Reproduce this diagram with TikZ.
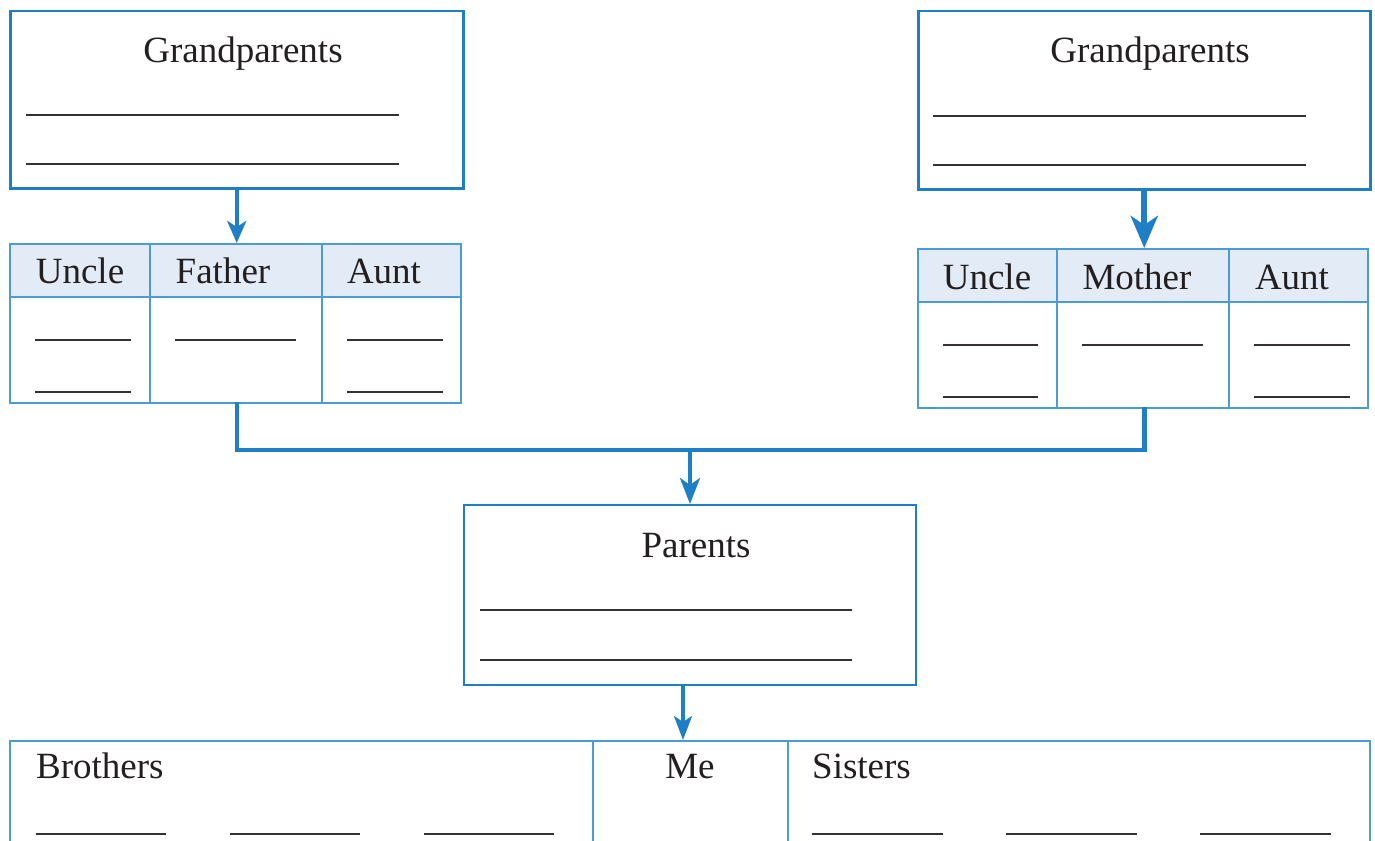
\documentclass[tikz,border=0pt]{standalone}
\usepackage{fontspec}
\setmainfont{Liberation Serif}
\usetikzlibrary{arrows.meta,calc}
\definecolor{bblue}{HTML}{1E7FC6}
\definecolor{tblue}{HTML}{4A9BD6}
\definecolor{hfill}{HTML}{E3EBF6}
\definecolor{ink}{HTML}{231F20}
\begin{document}
\begin{tikzpicture}[x=1pt,y=-1pt,
  font=\fontsize{37}{44}\selectfont,
  box/.style={draw=bblue, line width=2.5pt, fill=white, inner sep=0pt, anchor=north west},
  pbox/.style={box, line width=2pt},
  cell/.style={draw=tblue, line width=1.5pt, inner sep=0pt, anchor=north west},
  hcell/.style={cell, fill=hfill},
  frame/.style={inner sep=0pt, anchor=north west},
  blank/.style={draw=ink!92, line width=2pt},
  lbl/.style={text=ink, anchor=base, inner sep=0pt},
  lbll/.style={lbl, anchor=base west},
  conn/.style={draw=bblue, line width=4.5pt},
  arrA/.style={draw=bblue, line width=4pt, -{Stealth[length=22pt,width=19pt,inset=6pt]}},
  arrB/.style={draw=bblue, line width=6pt, -{Stealth[length=32pt,width=27pt,inset=9pt]}},
  arrC/.style={draw=bblue, line width=4pt, -{Stealth[length=26pt,width=20pt,inset=7pt]}},
  arrD/.style={draw=bblue, line width=3.5pt, -{Stealth[length=24pt,width=18pt,inset=6pt]}}
]
\useasboundingbox (0,0) rectangle (1375,840);
\clip (0,0) rectangle (1375,840);

% ---------- left grandparents ----------
\node[box, minimum width=453pt, minimum height=177pt] (gpL) at (9,10) {};
\node[lbl] (gpLt) at (243,63) {Grandparents};
\draw[blank] (26,115) -- (399,115);
\draw[blank] (26,164) -- (399,164);

% ---------- right grandparents ----------
\node[box, minimum width=452pt, minimum height=178pt] (gpR) at (917,10) {};
\node[lbl] (gpRt) at (1150,63) {Grandparents};
\draw[blank] (933,116) -- (1306,116);
\draw[blank] (933,165) -- (1306,165);

% ---------- left table ----------
\node[frame, minimum width=451pt, minimum height=159pt] (tL) at (9,243) {};
\node[hcell, minimum width=140pt, minimum height=53pt] (tLU) at (9,243) {};
\node[hcell, minimum width=172pt, minimum height=53pt] (tLF) at (149,243) {};
\node[hcell, minimum width=139pt, minimum height=53pt] (tLA) at (321,243) {};
\node[cell, minimum width=140pt, minimum height=106pt] (tLUb) at (9,296) {};
\node[cell, minimum width=172pt, minimum height=106pt] (tLFb) at (149,296) {};
\node[cell, minimum width=139pt, minimum height=106pt] (tLAb) at (321,296) {};
\node[lbl] at (80,283) {Uncle};
\node[lbl] at (223,283) {Father};
\node[lbl] at (384,283) {Aunt};
\draw[blank] (35,340) -- (131,340);
\draw[blank] (35,392) -- (131,392);
\draw[blank] (175,340) -- (296,340);
\draw[blank] (347,340) -- (443,340);
\draw[blank] (347,392) -- (443,392);

% ---------- right table ----------
\node[frame, minimum width=450pt, minimum height=159pt] (tR) at (917,248) {};
\node[hcell, minimum width=139pt, minimum height=53pt] (tRU) at (917,248) {};
\node[hcell, minimum width=172pt, minimum height=53pt] (tRM) at (1056,248) {};
\node[hcell, minimum width=139pt, minimum height=53pt] (tRA) at (1228,248) {};
\node[cell, minimum width=139pt, minimum height=106pt] (tRUb) at (917,301) {};
\node[cell, minimum width=172pt, minimum height=106pt] (tRMb) at (1056,301) {};
\node[cell, minimum width=139pt, minimum height=106pt] (tRAb) at (1228,301) {};
\node[lbl] at (987,289) {Uncle};
\node[lbl] at (1137,289) {Mother};
\node[lbl] at (1292,289) {Aunt};
\draw[blank] (943,345) -- (1038,345);
\draw[blank] (943,397) -- (1038,397);
\draw[blank] (1082,345) -- (1203,345);
\draw[blank] (1254,345) -- (1350,345);
\draw[blank] (1254,397) -- (1350,397);

% ---------- parents ----------
\node[pbox, minimum width=452pt, minimum height=180pt] (par) at (463,504) {};
\node[lbl] (part) at (696,557) {Parents};
\draw[blank] (480,610) -- (852,610);
\draw[blank] (480,660) -- (852,660);

% ---------- siblings row ----------
\node[cell, minimum width=583pt, minimum height=160pt] (bro) at (9,740) {};
\node[cell, minimum width=195pt, minimum height=160pt] (me) at (592,740) {};
\node[cell, minimum width=582pt, minimum height=160pt] (sis) at (787,740) {};
\node[lbll] at (36,778) {Brothers};
\node[lbl] at (690,778) {Me};
\node[lbll] at (812,778) {Sisters};
\foreach \a/\b in {36/166,230/360,424/554,812/943,1006/1137,1200/1331}
  \draw[blank] (\a,834) -- (\b,834);

% ---------- connectors ----------
\coordinate (bar) at (0,450);
\draw[arrA] (gpL.south) -- (gpL.south |- tL.north);
\draw[arrB] (gpR.south) -- (gpR.south |- tR.north);
\draw[conn] (gpL.south |- tL.south) |- (bar -| gpR.south) -- (gpR.south |- tR.south);
\draw[arrC] (par.north |- bar) -- (par.north);
\draw[arrD] ([xshift=-7pt]par.south) -- ([xshift=-7pt]par.south |- me.north);
\end{tikzpicture}
\end{document}
